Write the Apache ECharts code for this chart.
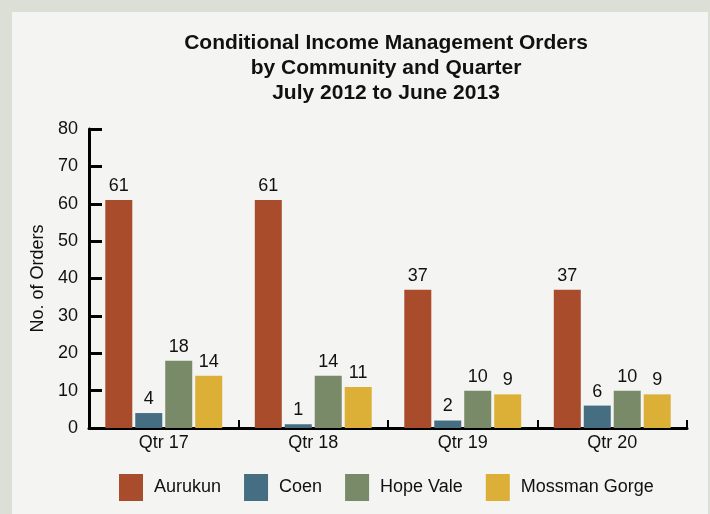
<!DOCTYPE html>
<html>
<head>
<meta charset="utf-8">
<script src="https://cdn.jsdelivr.net/npm/echarts@6/dist/echarts.min.js"></script>
<style>
  html, body { margin: 0; padding: 0; background: #dcdfd6; }
  #chart { width: 710px; height: 514px; }
</style>
</head>
<body>
<div id="chart"></div>
<script>
// data
var quarters = ['Qtr 17', 'Qtr 18', 'Qtr 19', 'Qtr 20'];
var communities = ['Aurukun', 'Coen', 'Hope Vale', 'Mossman Gorge'];
var aurukun = [61, 61, 37, 37];
var coen = [4, 1, 2, 6];
var hopeVale = [18, 14, 10, 10];
var mossmanGorge = [14, 11, 9, 9];
var yTicks = [0, 10, 20, 30, 40, 50, 60, 70, 80];

var colors = ['#a84c2c', '#466e82', '#788a68', '#dcb037'];
var values = [aurukun, coen, hopeVale, mossmanGorge];

var chart = echarts.init(document.getElementById('chart'));

var series = [];
for (var i = 0; i < communities.length; i++) {
    series.push({
        name: communities[i],
        type: 'bar',
        data: values[i],
        barWidth: 27,
        barGap: '11%',
        itemStyle: { color: colors[i] },
        label: {
            show: true,
            position: 'top',
            distance: 5,
            fontFamily: 'Liberation Sans, Arial, sans-serif',
            fontSize: 18,
            color: '#111'
        }
    });
}

var option = {
    animation: false,
    color: colors,
    textStyle: { fontFamily: 'Liberation Sans, Arial, sans-serif' },
    graphic: [
        {
            type: 'rect',
            silent: true,
            z: -10,
            shape: { x: 12, y: 12, width: 696, height: 502 },
            style: { fill: '#f4f4f2' }
        }
    ],
    title: {
        text: 'Conditional Income Management Orders\nby Community and Quarter\nJuly 2012 to June 2013',
        left: 386,
        top: 31,
        padding: 0,
        textAlign: 'center',
        textStyle: {
            fontSize: 21,
            fontWeight: 'bold',
            lineHeight: 25,
            color: '#111',
            fontFamily: 'Liberation Sans, Arial, sans-serif'
        }
    },
    legend: {
        data: communities,
        left: 119,
        top: 474,
        padding: 0,
        itemWidth: 24,
        itemHeight: 27,
        itemGap: 23,
        icon: 'rect',
        textStyle: {
            fontSize: 18,
            color: '#111',
            padding: [0, 0, 0, 6]
        }
    },
    grid: {
        left: 89,
        right: 23,
        top: 129,
        bottom: 86,
        containLabel: false
    },
    xAxis: {
        type: 'category',
        data: quarters,
        axisLine: { lineStyle: { color: '#000', width: 3 } },
        axisTick: { show: true, inside: true, length: 8, lineStyle: { color: '#000', width: 2 } },
        axisLabel: { fontSize: 18, color: '#111', margin: 6 },
        splitLine: { show: false }
    },
    yAxis: {
        type: 'value',
        min: 0,
        max: 80,
        interval: 10,
        name: 'No. of Orders',
        nameLocation: 'middle',
        nameGap: 42,
        nameRotate: 90,
        nameTextStyle: { fontSize: 18, color: '#111' },
        axisLine: { show: true, lineStyle: { color: '#000', width: 3 } },
        axisTick: { show: true, inside: true, length: 13, lineStyle: { color: '#000', width: 3 } },
        axisLabel: {
            fontSize: 18,
            color: '#111',
            margin: 11,
            formatter: function (v) { return yTicks.indexOf(v) >= 0 ? String(v) : ''; }
        },
        splitLine: { show: false }
    },
    series: series
};

chart.setOption(option);
window.onresize = chart.resize;
</script>
</body>
</html>
